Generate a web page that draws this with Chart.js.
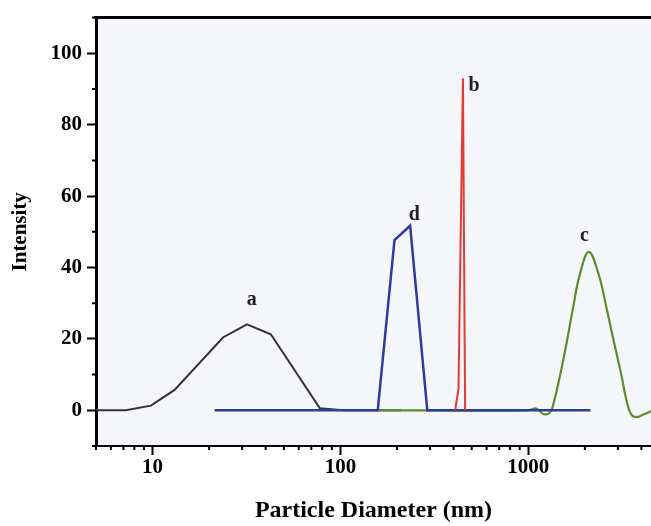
<!DOCTYPE html>
<html>
<head>
<meta charset="utf-8">
<script src="https://cdn.jsdelivr.net/npm/chart.js@4"></script>
<style>
  body { margin: 0; background: #fff; }
  #wrap { width: 651px; height: 526px; }
</style>
</head>
<body>
<div id="wrap"><canvas id="psd" width="651" height="526"></canvas></div>
<script>
// curve a (black)
const aX = [5, 7.2, 9.8, 13.1, 23.7, 31.8, 42.6, 77.6, 103, 210];
const aY = [0, 0, 1.3, 5.7, 20.4, 24.1, 21.3, 0.6, 0, 0];
// curve b (red spike)
const bX = [408, 425, 449, 461];
const bY = [0, 6, 93, 0];
// curve c (green)
const cX = [160, 1000, 1100, 1208, 1309, 1376, 1482, 1607, 1731, 1880, 2100, 2371, 2607, 2850, 3120, 3330, 3500, 3720, 4100, 4600];
const cY = [0, 0, 0.5, -1.1, -0.5, 2.8, 10.2, 19.4, 28.7, 38, 44.4, 38, 28.7, 19.4, 10.2, 2.8, -0.8, -1.9, -1.2, 0];
// curve d (blue)
const dX = [21.4, 158, 194, 235, 290, 2140];
const dY = [0, 0, 47.7, 51.7, 0, 0];

const xTickLabels = [10, 100, 1000];
const yTickLabels = [0, 20, 40, 60, 80, 100];

// letters next to the peaks, in data units
const peakNames = ["a", "b", "c", "d"];
const peakAt = [[33.7, 31], [515, 91], [1990, 49], [247, 54.7]];

const pts = (xs, ys) => xs.map((x, i) => ({ x: x, y: ys[i] }));

// minor tick positions for the log axis
const xMinor = [];
for (let dec = 1; dec <= 1000; dec *= 10) {
  for (let k = 1; k <= 9; k++) {
    const v = k * dec;
    if (v >= 5 && v <= 4500) xMinor.push(v);
  }
}

const serif = "'Liberation Serif', 'Times New Roman', serif";

// fill the plot, draw top frame line, minor ticks and peak letters
const extrasPlugin = {
  id: "extras",
  beforeDraw(chart) {
    const { ctx, chartArea: ca } = chart;
    ctx.save();
    ctx.fillStyle = "#f5f6fa";
    ctx.fillRect(ca.left, ca.top, ca.right - ca.left, ca.bottom - ca.top);
    ctx.restore();
  },
  afterDraw(chart) {
    const { ctx, chartArea: ca } = chart;
    const xs = chart.scales.x;
    const ys = chart.scales.y;
    ctx.save();
    ctx.strokeStyle = "#000";
    ctx.lineWidth = 3;
    ctx.beginPath();
    ctx.moveTo(ca.left - 2, ca.top);
    ctx.lineTo(ca.right, ca.top);
    ctx.stroke();

    ctx.lineWidth = 2;
    ctx.beginPath();
    xMinor.forEach((v) => {
      if (xTickLabels.includes(v)) return;
      const px = xs.getPixelForValue(v);
      ctx.moveTo(px, ca.bottom);
      ctx.lineTo(px, ca.bottom + 4);
    });
    for (let v = -10; v <= 110; v += 10) {
      if (yTickLabels.includes(v)) continue;
      const py = ys.getPixelForValue(v);
      ctx.moveTo(ca.left - 4, py);
      ctx.lineTo(ca.left, py);
    }
    ctx.stroke();

    ctx.fillStyle = "#222";
    ctx.font = "bold 20px " + serif;
    ctx.textAlign = "center";
    ctx.textBaseline = "middle";
    peakNames.forEach((n, i) => {
      ctx.fillText(n, xs.getPixelForValue(peakAt[i][0]), ys.getPixelForValue(peakAt[i][1]));
    });
    ctx.restore();
  },
};

const lineSet = (label, xs, ys, color, width, order, tension) => ({
  label: label,
  data: pts(xs, ys),
  borderColor: color,
  borderWidth: width,
  pointRadius: 0,
  fill: false,
  tension: tension,
  order: order,
});

new Chart(document.getElementById("psd"), {
  type: "line",
  data: {
    datasets: [
      lineSet("b", bX, bY, "#e23b33", 2, 0, 0),
      lineSet("d", dX, dY, "#2c3b9c", 2.5, 1, 0),
      lineSet("c", cX, cY, "#5d8c2c", 2.2, 2, 0.4),
      lineSet("a", aX, aY, "#333333", 2, 3, 0),
    ],
  },
  options: {
    responsive: false,
    animation: false,
    layout: { padding: { top: 14, right: 0, left: 0, bottom: 0 } },
    plugins: { legend: { display: false }, tooltip: { enabled: false } },
    scales: {
      x: {
        type: "logarithmic",
        min: 5,
        max: 4500,
        afterBuildTicks: (scale) => {
          scale.ticks = xMinor.map((v) => ({ value: v }));
        },
        afterFit: (scale) => { scale.height = 80; },
        border: { display: true, color: "#000", width: 2 },
        grid: {
          drawOnChartArea: false,
          drawTicks: true,
          tickLength: 9,
          tickWidth: 2,
          tickColor: (c) => (c.tick && xTickLabels.includes(c.tick.value) ? "#000" : "rgba(0,0,0,0)"),
        },
        ticks: {
          autoSkip: false,
          maxRotation: 0,
          padding: 0,
          color: "#000",
          font: { family: serif, size: 21, weight: "bold" },
          callback: (v) => (xTickLabels.includes(v) ? String(v) : ""),
        },
        title: {
          display: true,
          text: "Particle Diameter (nm)",
          color: "#000",
          font: { family: serif, size: 24, weight: "bold" },
          padding: { top: 0, bottom: 1 },
        },
      },
      y: {
        min: -10,
        max: 110,
        afterFit: (scale) => { scale.width = 96; },
        border: { display: true, color: "#000", width: 3 },
        grid: {
          drawOnChartArea: false,
          drawTicks: true,
          tickLength: 9,
          tickWidth: 2,
          tickColor: (c) => (c.tick && yTickLabels.includes(c.tick.value) ? "#000" : "rgba(0,0,0,0)"),
        },
        ticks: {
          stepSize: 10,
          padding: 5,
          color: "#000",
          font: { family: serif, size: 21, weight: "bold" },
          callback: (v) => (yTickLabels.includes(v) ? String(v) : ""),
        },
        title: {
          display: true,
          text: "Intensity",
          color: "#000",
          font: { family: serif, size: 21, weight: "bold" },
          padding: { top: 8, bottom: 0 },
        },
      },
    },
  },
  plugins: [extrasPlugin],
});
</script>
</body>
</html>
